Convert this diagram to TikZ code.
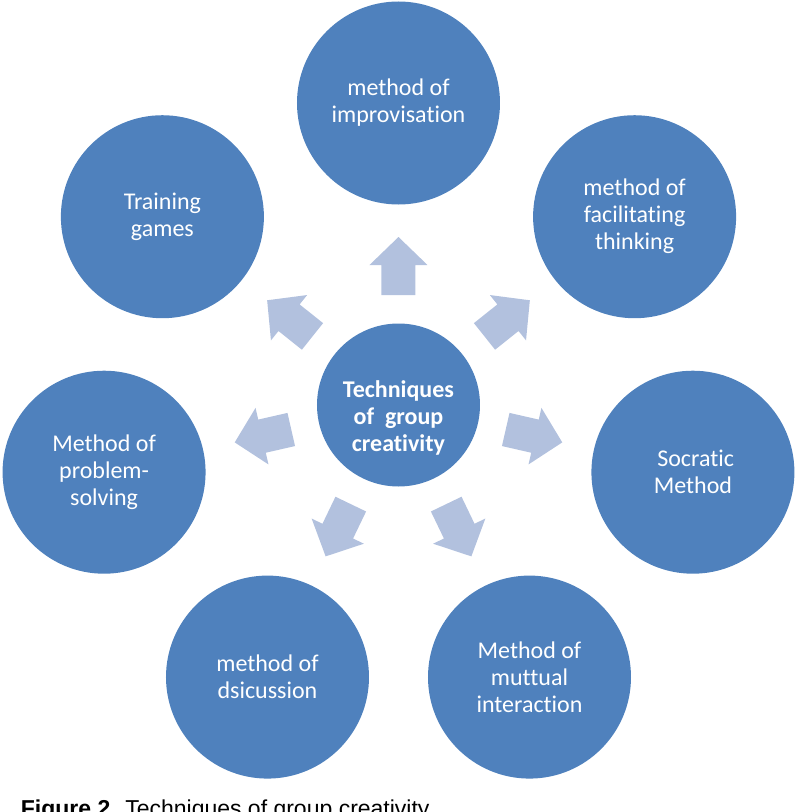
\documentclass[tikz,border=0pt]{standalone}
\usepackage{fontspec}
\setmainfont{Carlito}[Ligatures=NoCommon]
\newfontfamily\capfont{Liberation Sans}
\definecolor{circblue}{RGB}{79,129,189}
\definecolor{arrblue}{RGB}{178,193,222}
\begin{document}
\begin{tikzpicture}[x=1pt,y=1pt,
    method/.style={circle,fill=circblue,minimum size=203pt,inner sep=0pt,text=white,align=center,font=\fontsize{24}{27}\selectfont},
    hub/.style={circle,fill=circblue,minimum size=163pt,inner sep=0pt},
    hubtext/.style={inner sep=0pt,text=white,align=center,font=\fontsize{24}{27}\selectfont\bfseries},
    blockarrow/.style={fill=arrblue}]
    \useasboundingbox(-398.5,-407)rectangle(397.5,405);
    % centre
    \node[hub](hub)at(0,0){};
    \node[hubtext](hubtitle)at(0,-12.5){Techniques\\of\ \ group\\creativity};
    % arrows
    \fill[blockarrow,rotate=90](110,-17)--(140,-17)--(140,-29)--(168,0)--(140,29)--(140,17)--(110,17)--cycle;
    \fill[blockarrow,rotate=141.43](110,-17)--(140,-17)--(140,-29)--(168,0)--(140,29)--(140,17)--(110,17)--cycle;
    \fill[blockarrow,rotate=192.86](110,-17)--(140,-17)--(140,-29)--(168,0)--(140,29)--(140,17)--(110,17)--cycle;
    \fill[blockarrow,rotate=244.29](110,-17)--(140,-17)--(140,-29)--(168,0)--(140,29)--(140,17)--(110,17)--cycle;
    \fill[blockarrow,rotate=295.71](110,-17)--(140,-17)--(140,-29)--(168,0)--(140,29)--(140,17)--(110,17)--cycle;
    \fill[blockarrow,rotate=347.14](110,-17)--(140,-17)--(140,-29)--(168,0)--(140,29)--(140,17)--(110,17)--cycle;
    \fill[blockarrow,rotate=38.57](110,-17)--(140,-17)--(140,-29)--(168,0)--(140,29)--(140,17)--(110,17)--cycle;
    % methods
    \node[method](improv)at(90:302){method of\\improvisation};
    \node[method](games)at(141.43:302){Training\\games};
    \node[method](problem)at(192.86:302){Method of\\problem-\\solving};
    \node[method](discuss)at(244.29:302){method of\\dsicussion};
    \node[method](mutual)at(295.71:302){Method of\\muttual\\interaction};
    \node[method](socratic)at(347.14:302){\ Socratic\\Method};
    \node[method](facil)at(38.57:302){method of\\facilitating\\thinking};
    % caption
    \node[anchor=base west,inner sep=0pt,font=\fontsize{23}{27}\selectfont\capfont](caption)at(-377.8,-411.5){\textbf{Figure 2.} Techniques of group creativity};
\end{tikzpicture}
\end{document}
